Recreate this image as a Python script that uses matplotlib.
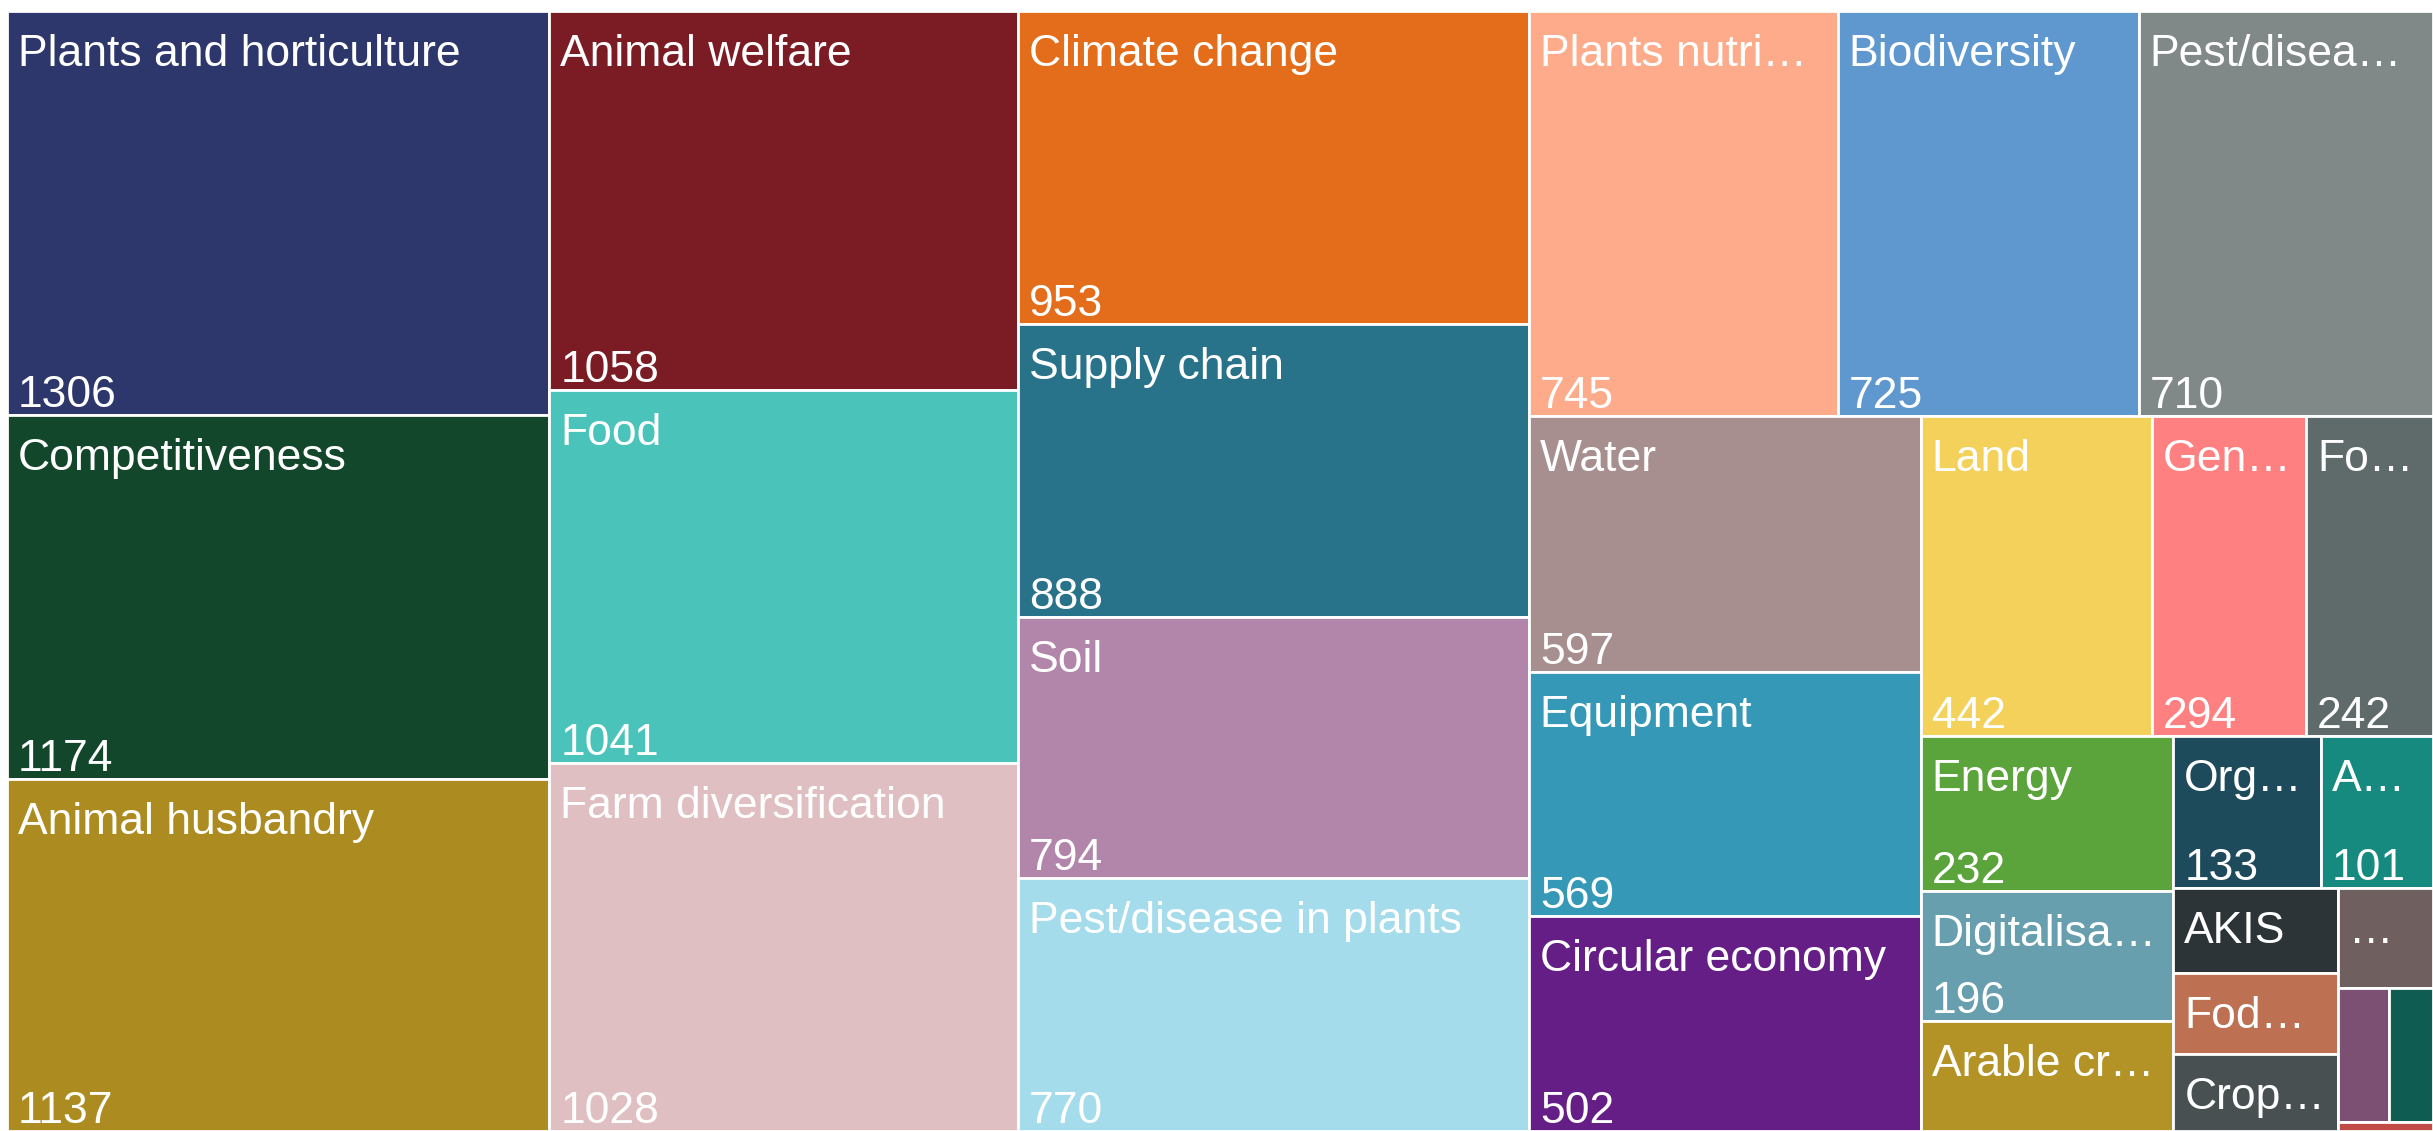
import matplotlib.pyplot as plt
from matplotlib.patches import Rectangle

plt.rcParams['font.family'] = ['Liberation Sans', 'DejaVu Sans']

# topics (labels as they show in the cells) and counts, largest first
labels = ["Plants and horticulture", "Competitiveness", "Animal husbandry",
          "Animal welfare", "Food", "Farm diversification",
          "Climate change", "Supply chain", "Soil", "Pest/disease in plants",
          "Plants nutri…", "Biodiversity", "Pest/disea…",
          "Water", "Equipment", "Circular economy",
          "Land", "Gen…", "Fo…",
          "Energy", "Digitalisa…", "Arable cr…",
          "Org…", "A…",
          "AKIS", "Fod…", "Crop…", "…", "", "", ""]
values = [1306, 1174, 1137,
          1058, 1041, 1028,
          953, 888, 794, 770,
          745, 725, 710,
          597, 569, 502,
          442, 294, 242,
          232, 196, 166,
          133, 101,
          83, 80, 75, 57, 41, 35, 5]
colors = ["#2E376B", "#13472B", "#AC8C21",
          "#7B1C24", "#4AC4BA", "#E0BFC2",
          "#E46D1B", "#29738A", "#B286AA", "#A5DCEC",
          "#FDAB8A", "#5E98CF", "#808888",
          "#A68F8E", "#3698B7", "#651E85",
          "#F3D15B", "#FF8080", "#5F6A6B",
          "#5BA33B", "#689FAF", "#B39325",
          "#1E4B5C", "#178A7F",
          "#2C3437", "#BD7152", "#485052", "#6F5F5F", "#7C5073", "#0F5C53", "#C04B47"]

PHI = (1 + 5 ** 0.5) / 2


def squarify(vals, x0, y0, x1, y1, ratio=PHI):
    # d3-style squarified treemap
    rects = []
    total = float(sum(vals))
    i0, n = 0, len(vals)
    while i0 < n:
        dx, dy = x1 - x0, y1 - y0
        s = vals[i0]
        i1 = i0 + 1
        mn = mx = s
        alpha = max(dy / dx, dx / dy) / (total * ratio)
        beta = s * s * alpha
        best = max(mx / beta, beta / mn)
        while i1 < n:
            v = vals[i1]
            s2 = s + v
            mn2, mx2 = min(mn, v), max(mx, v)
            beta = s2 * s2 * alpha
            r = max(mx2 / beta, beta / mn2)
            if r > best:
                break
            s, mn, mx, best = s2, mn2, mx2, r
            i1 += 1
        row = vals[i0:i1]
        if dx < dy:
            h = dy * s / total
            x = x0
            for v in row:
                w = dx * v / s
                rects.append((x, y0, w, h))
                x += w
            y0 += h
        else:
            w = dx * s / total
            y = y0
            for v in row:
                hh = dy * v / s
                rects.append((x0, y, w, hh))
                y += hh
            x0 += w
        total -= s
        i0 = i1
    return rects


W, H = 2426, 1120
fig = plt.figure(figsize=(24.33, 11.31), dpi=100)
ax = fig.add_axes([7 / 2433, 0, W / 2433, H / 1131])
ax.set_xlim(0, W)
ax.set_ylim(H, 0)
ax.axis('off')

for (x, y, w, h), lab, val, c in zip(squarify(values, 0, 0, W, H), labels, values, colors):
    ax.add_patch(Rectangle((x, y), w, h, facecolor=c, edgecolor='white', lw=2))
    if lab:
        ax.text(x + 11, y + 55, lab, color='white', fontsize=32, va='baseline', ha='left')
    if lab and h >= 120:
        ax.text(x + 11, y + h - 8, str(val), color='white', fontsize=32, va='baseline', ha='left')

fig.savefig("out.png", dpi=100)
